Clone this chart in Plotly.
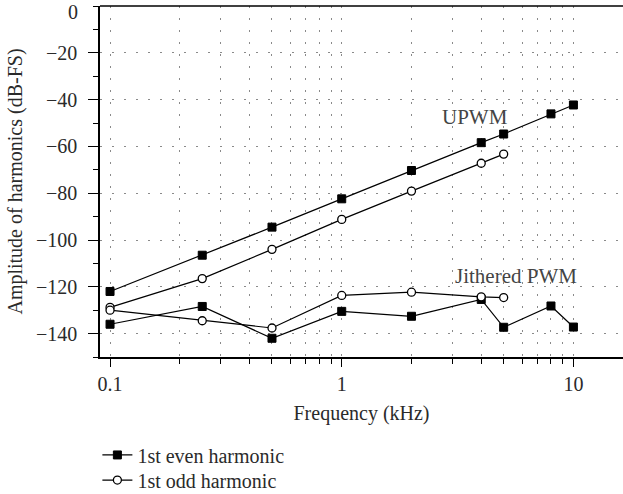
import plotly.graph_objects as go
import numpy as np

freq_upwm = [0.1, 0.25, 0.5, 1, 2, 4, 5, 8, 10]
upwm_even = [-122, -106.5, -94.5, -82.4, -70.3, -58.4, -54.7, -46.1, -42.3]
freq_upwm_odd = [0.1, 0.25, 0.5, 1, 2, 4, 5]
upwm_odd = [-128.8, -116.5, -104, -91.2, -79.1, -67.2, -63.3]

freq_jit = [0.1, 0.25, 0.5, 1, 2, 4, 5, 8, 10]
jit_even = [-136, -128.4, -142, -130.5, -132.6, -125.4, -137.3, -128.2, -137.2]
freq_jit_odd = [0.1, 0.25, 0.5, 1, 2, 4, 5]
jit_odd = [-130, -134.5, -137.6, -123.7, -122.3, -124.3, -124.6]

x_major = [0.1, 1, 10]
x_major_text = ["0.1", "1", "10"]
x_minor = [0.09] + [m * d for d in (0.1, 1) for m in range(2, 10)]
y_major = list(range(-140, 1, 20))
y_major_text = [("\u2212" + str(-v)) if v < 0 else "" for v in y_major]
y_top_val = [0]
y_top_text = ["0"]
y_minor = list(range(-150, 1, 10))

FONT = "Liberation Serif, Times New Roman, serif"
TXT = "#2a2a2a"
GRID = "#8a8a8a"
GDASH = "1.5px,10.5px"
FS = 20

fig = go.Figure()
sq = dict(symbol="square", size=8, color="black", line=dict(color="black", width=1))
ci = dict(symbol="circle", size=8, color="white", line=dict(color="black", width=1.3))
ln = dict(color="black", width=1.2)

fig.add_trace(go.Scatter(x=freq_upwm, y=upwm_even, mode="lines+markers", line=ln, marker=sq,
                         name="1st even harmonic", legendgroup="e", legend="legend"))
fig.add_trace(go.Scatter(x=freq_upwm_odd, y=upwm_odd, mode="lines+markers", line=ln, marker=ci,
                         name="1st odd harmonic", legendgroup="o", legend="legend2"))
fig.add_trace(go.Scatter(x=freq_jit, y=jit_even, mode="lines+markers", line=ln, marker=sq,
                         name="1st even harmonic", showlegend=False, legendgroup="e"))
fig.add_trace(go.Scatter(x=freq_jit_odd, y=jit_odd, mode="lines+markers", line=ln, marker=ci,
                         name="1st odd harmonic", showlegend=False, legendgroup="o", legend="legend2"))
# helper trace so the overlay axis carrying the top "0" label is drawn
fig.add_trace(go.Scatter(x=[None], y=[None], yaxis="y2", showlegend=False, hoverinfo="skip"))

fig.add_annotation(x=np.log10(3.75), y=-47.5, text="UPWM", showarrow=False,
                   font=dict(family=FONT, size=21, color="#444"))
fig.add_annotation(x=np.log10(5.65), y=-115.5, text="Jithered PWM", showarrow=False,
                   font=dict(family=FONT, size=21, color="#444"))

leg_common = dict(x=-0.005, xanchor="left", yanchor="top",
                  font=dict(family=FONT, size=FS, color=TXT),
                  tracegroupgap=0, itemwidth=30, bgcolor="rgba(0,0,0,0)")

fig.update_layout(
    width=623, height=494,
    margin=dict(l=100, r=0, t=6, b=137, autoexpand=False),
    plot_bgcolor="white", paper_bgcolor="white",
    font=dict(family=FONT, size=FS, color=TXT),
    showlegend=True,
    legend=dict(y=-0.2235, **leg_common),
    legend2=dict(y=-0.295, **leg_common),
    xaxis=dict(
        type="log", range=[np.log10(0.0905), 1.214], automargin=False,
        title=dict(text="Frequency (kHz)", standoff=12, font=dict(family=FONT, size=FS, color=TXT)),
        tickmode="array", tickvals=x_major, ticktext=x_major_text,
        tickfont=dict(family=FONT, size=FS, color=TXT),
        ticks="outside", ticklen=8, tickcolor="black", tickwidth=1.2,
        ticklabelstandoff=0,
        showline=True, linecolor="black", linewidth=1.5, mirror=False,
        showgrid=True, gridcolor=GRID, griddash=GDASH, gridwidth=1.2,
        zeroline=False,
        minor=dict(tickmode="array", tickvals=x_minor, ticks="outside", ticklen=5,
                   tickcolor="black", showgrid=True, gridcolor=GRID, griddash=GDASH, gridwidth=1.2),
    ),
    yaxis=dict(
        range=[-150, 0.001], automargin=False,
        title=dict(text="Amplitude of harmonics (dB-FS)", standoff=8, font=dict(family=FONT, size=FS, color=TXT)),
        tickmode="array", tickvals=y_major, ticktext=y_major_text,
        tickfont=dict(family=FONT, size=FS, color=TXT),
        ticks="outside", ticklen=10, tickcolor="black", tickwidth=1.2,
        ticklabelstandoff=7,
        showline=True, linecolor="black", linewidth=1.5,
        showgrid=True, gridcolor=GRID, griddash=GDASH, gridwidth=1.2,
        zeroline=False,
        minor=dict(tickmode="array", tickvals=y_minor, ticks="outside", ticklen=5,
                   tickcolor="black", showgrid=False),
    ),
    yaxis2=dict(
        overlaying="y", side="left", anchor="x", range=[-150, 0.001], automargin=False,
        tickmode="array", tickvals=y_top_val, ticktext=y_top_text,
        tickfont=dict(family=FONT, size=FS, color=TXT),
        ticks="outside", ticklen=10, tickcolor="rgba(0,0,0,0)",
        ticklabelstandoff=7, ticklabelshift=6, ticklabeloverflow="allow",
        showline=False, showgrid=False, zeroline=False,
    ),
)
fig.add_shape(type="line", xref="paper", yref="paper", x0=0, x1=1, y0=1, y1=1,
              line=dict(color="black", width=1.5))

fig.write_html("out.html")
